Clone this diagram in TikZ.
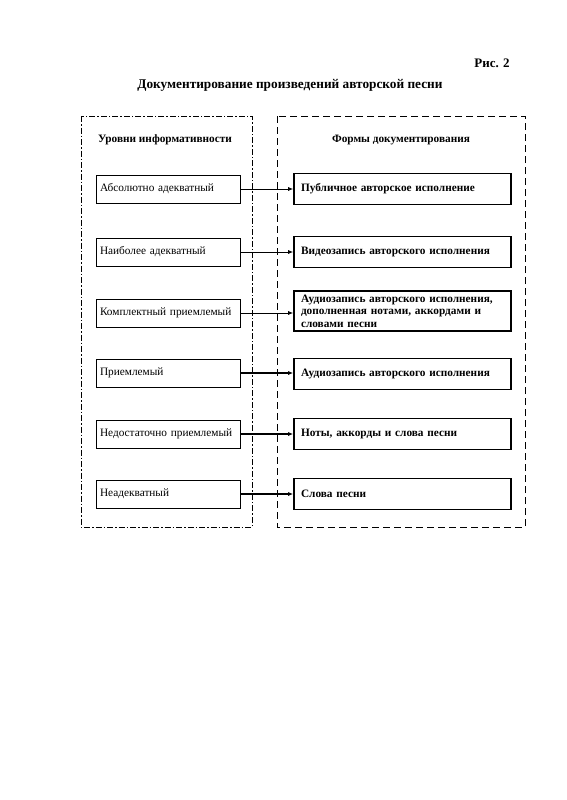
\documentclass[tikz,border=0pt]{standalone}
\usepackage{fontspec}
\setmainfont{Liberation Serif}
\usetikzlibrary{arrows.meta}
\begin{document}
\begin{tikzpicture}[x=1pt,y=-1pt,
  lbox/.style={draw,line width=0.9pt,minimum width=144pt,minimum height=28pt,text width=136pt,align=left,inner sep=0pt,font=\fontsize{11.3}{12.5}\selectfont},
  rbox/.style={draw,line width=1.6pt,minimum width=217pt,minimum height=31pt,text width=203pt,align=left,inner sep=0pt,font=\bfseries\fontsize{11.3}{12.5}\selectfont},
  conn/.style={line width=0.8pt,-{Latex[length=5pt,width=4pt]}},
  thick conn/.style={line width=1.5pt,-{Latex[length=5pt,width=4pt]}},
  hdr/.style={font=\bfseries\fontsize{11.3}{12.5}\selectfont,inner sep=0pt}]
\useasboundingbox (0,0) rectangle (566,800);
\node[font=\bfseries\fontsize{13}{15}\selectfont,inner sep=0pt] (fig) at (492,63) {Рис. 2};
\node[font=\bfseries\fontsize{13.3}{15}\selectfont,inner sep=0pt] (title) at (290,85) {Документирование произведений авторской песни};
\draw[line width=1pt,dash pattern=on 6pt off 2pt on 1.5pt off 2pt] (81,116) rectangle (252,527);
\draw[line width=1pt,dash pattern=on 7pt off 4pt] (277,116) rectangle (525,527);
\node[hdr] (h1) at (165,140) {Уровни информативности};
\node[hdr] (h2) at (401,140) {Формы документирования};
\node[lbox] (l1) at (168,189) {Абсолютно адекватный};
\node[lbox] (l2) at (168,252) {Наиболее адекватный};
\node[lbox] (l3) at (168,313) {Комплектный приемлемый};
\node[lbox] (l4) at (168,373) {Приемлемый};
\node[lbox] (l5) at (168,434) {Недостаточно приемлемый};
\node[lbox] (l6) at (168,494) {Неадекватный};
\node[rbox] (r1) at (402.5,189) {Публичное авторское исполнение};
\node[rbox] (r2) at (402.5,252) {Видеозапись авторского исполнения};
\node[rbox,minimum height=40pt] (r3) at (402.5,311) {Аудиозапись авторского исполнения, дополненная нотами, аккордами и словами песни};
\node[rbox] (r4) at (402.5,374) {Аудиозапись авторского исполнения};
\node[rbox] (r5) at (402.5,434) {Ноты, аккорды и слова песни};
\node[rbox] (r6) at (402.5,494) {Слова песни};
\draw[conn] (l1.east) -- (l1.east -| r1.west);
\draw[conn] (l2.east) -- (l2.east -| r2.west);
\draw[conn] (l3.east) -- (l3.east -| r3.west);
\draw[thick conn] (l4.east) -- (l4.east -| r4.west);
\draw[thick conn] (l5.east) -- (l5.east -| r5.west);
\draw[thick conn] (l6.east) -- (l6.east -| r6.west);
\end{tikzpicture}
\end{document}
